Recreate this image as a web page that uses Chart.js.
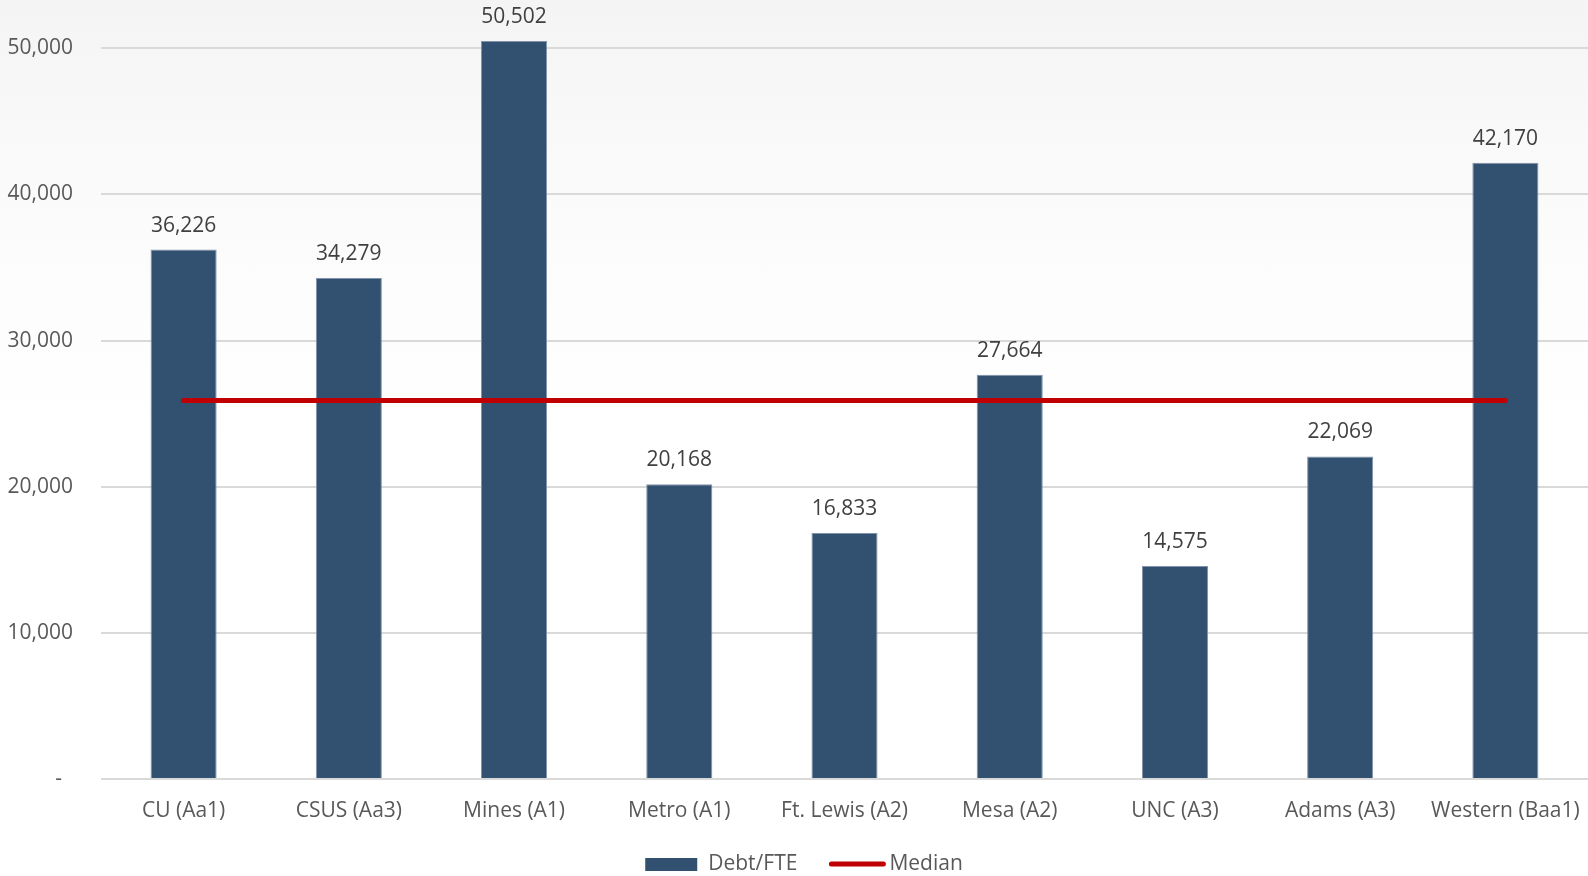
<!DOCTYPE html>
<html>
<head>
<meta charset="utf-8">
<script src="https://cdn.jsdelivr.net/npm/chart.js@4/dist/chart.umd.min.js"></script>
<style>
    html, body {
        margin: 0;
        padding: 0;
    }
    body {
        width: 1588px;
        height: 876px;
        background: linear-gradient(180deg, #f4f4f4 0%, #f8f8f8 12%, #fcfcfc 30%, #ffffff 50%);
    }
    #wrap {
        position: relative;
        width: 1588px;
        height: 876px;
    }
</style>
</head>
<body>
<div id="wrap"><canvas id="myChart"></canvas></div>
<script>
// valores
var escolas = ['CU (Aa1)', 'CSUS (Aa3)', 'Mines (A1)', 'Metro (A1)', 'Ft. Lewis (A2)', 'Mesa (A2)', 'UNC (A3)', 'Adams (A3)', 'Western (Baa1)'];
var debtPerFte = [36226, 34279, 50502, 20168, 16833, 27664, 14575, 22069, 42170];
var medianValue = 25900;
var medianLine = escolas.map(function () { return medianValue; });
var yTicks = [0, 10000, 20000, 30000, 40000, 50000];

var fonte = '"Open Sans", sans-serif';
var corBarra = '#325070';
var corMediana = '#c00000';

function formatar (v) {
    if (v === 0) return '-  ';
    return v.toLocaleString('en-US');
}

// rotulos em cima das barras
const rotulosPlugin = {
    id: 'rotulos',
    afterDatasetsDraw(chart) {
        var ctx = chart.ctx;
        var meta = chart.getDatasetMeta(0);
        ctx.save();
        ctx.font = '21px ' + fonte;
        ctx.fillStyle = '#404040';
        ctx.textAlign = 'center';
        ctx.textBaseline = 'alphabetic';
        meta.data.forEach(function (bar, i) {
            ctx.fillText(formatar(debtPerFte[i]), bar.x, bar.y - 18);
        });
        ctx.restore();
    }
};

// legenda desenhada na mao (caixa e linha com tamanhos diferentes)
const legendaPlugin = {
    id: 'legenda',
    afterDraw(chart) {
        var ctx = chart.ctx;
        var ds = chart.data.datasets;
        ctx.save();
        ctx.font = '21px ' + fonte;
        ctx.textBaseline = 'middle';
        ctx.textAlign = 'left';
        var w1 = ctx.measureText(ds[0].label).width;
        var w2 = ctx.measureText(ds[1].label).width;
        var total = 52 + 11 + w1 + 32 + 56 + 4 + w2;
        var x = chart.width / 2 - total / 2 + 10;
        var y = 864;

        ctx.fillStyle = ds[0].backgroundColor;
        ctx.fillRect(x, y - 6, 52, 13);
        x += 52 + 11;
        ctx.fillStyle = '#595959';
        ctx.fillText(ds[0].label, x, y);
        x += w1 + 32;

        ctx.strokeStyle = ds[1].borderColor;
        ctx.lineWidth = 5;
        ctx.lineCap = 'round';
        ctx.beginPath();
        ctx.moveTo(x + 2, y);
        ctx.lineTo(x + 54, y);
        ctx.stroke();
        x += 56 + 4;
        ctx.fillText(ds[1].label, x, y);
        ctx.restore();
    }
};

const ctx1 = document.getElementById('myChart');

new Chart(ctx1, {
    type: 'bar',
    data: {
        labels: escolas,
        datasets: [{
            type: 'bar',
            label: 'Debt/FTE',
            data: debtPerFte,
            backgroundColor: corBarra,
            borderColor: '#8193aa',
            borderWidth: 1,
            barPercentage: 0.4,
            categoryPercentage: 1,
            order: 2
        }, {
            type: 'line',
            label: 'Median',
            data: medianLine,
            borderColor: corMediana,
            backgroundColor: corMediana,
            borderWidth: 5,
            borderCapStyle: 'round',
            pointRadius: 0,
            fill: false,
            order: 1
        }]
    },
    options: {
        responsive: true,
        maintainAspectRatio: false,
        animation: false,
        layout: { padding: 0 },
        plugins: {
            legend: { display: false },
            tooltip: { enabled: false }
        },
        scales: {
            x: {
                offset: true,
                grid: { display: false, drawTicks: false },
                border: { display: false },
                ticks: {
                    color: '#595959',
                    font: { family: fonte, size: 21 },
                    padding: 19,
                    maxRotation: 0,
                    autoSkip: false
                },
                afterFit: function (scale) {
                    scale.height = 97;
                    scale.paddingLeft = 0;
                    scale.paddingRight = 0;
                }
            },
            y: {
                min: 0,
                max: 53300,
                grid: { color: '#d9d9d9', lineWidth: 2, drawTicks: false },
                border: { display: false },
                afterBuildTicks: function (scale) {
                    scale.ticks = yTicks.map(function (v) { return { value: v }; });
                },
                ticks: {
                    color: '#595959',
                    font: { family: fonte, size: 21 },
                    padding: 28,
                    callback: function (v) { return formatar(v); }
                },
                afterFit: function (scale) {
                    scale.width = 101;
                    scale.paddingTop = 0;
                    scale.paddingBottom = 0;
                }
            }
        }
    },
    plugins: [rotulosPlugin, legendaPlugin]
});
</script>
</body>
</html>
